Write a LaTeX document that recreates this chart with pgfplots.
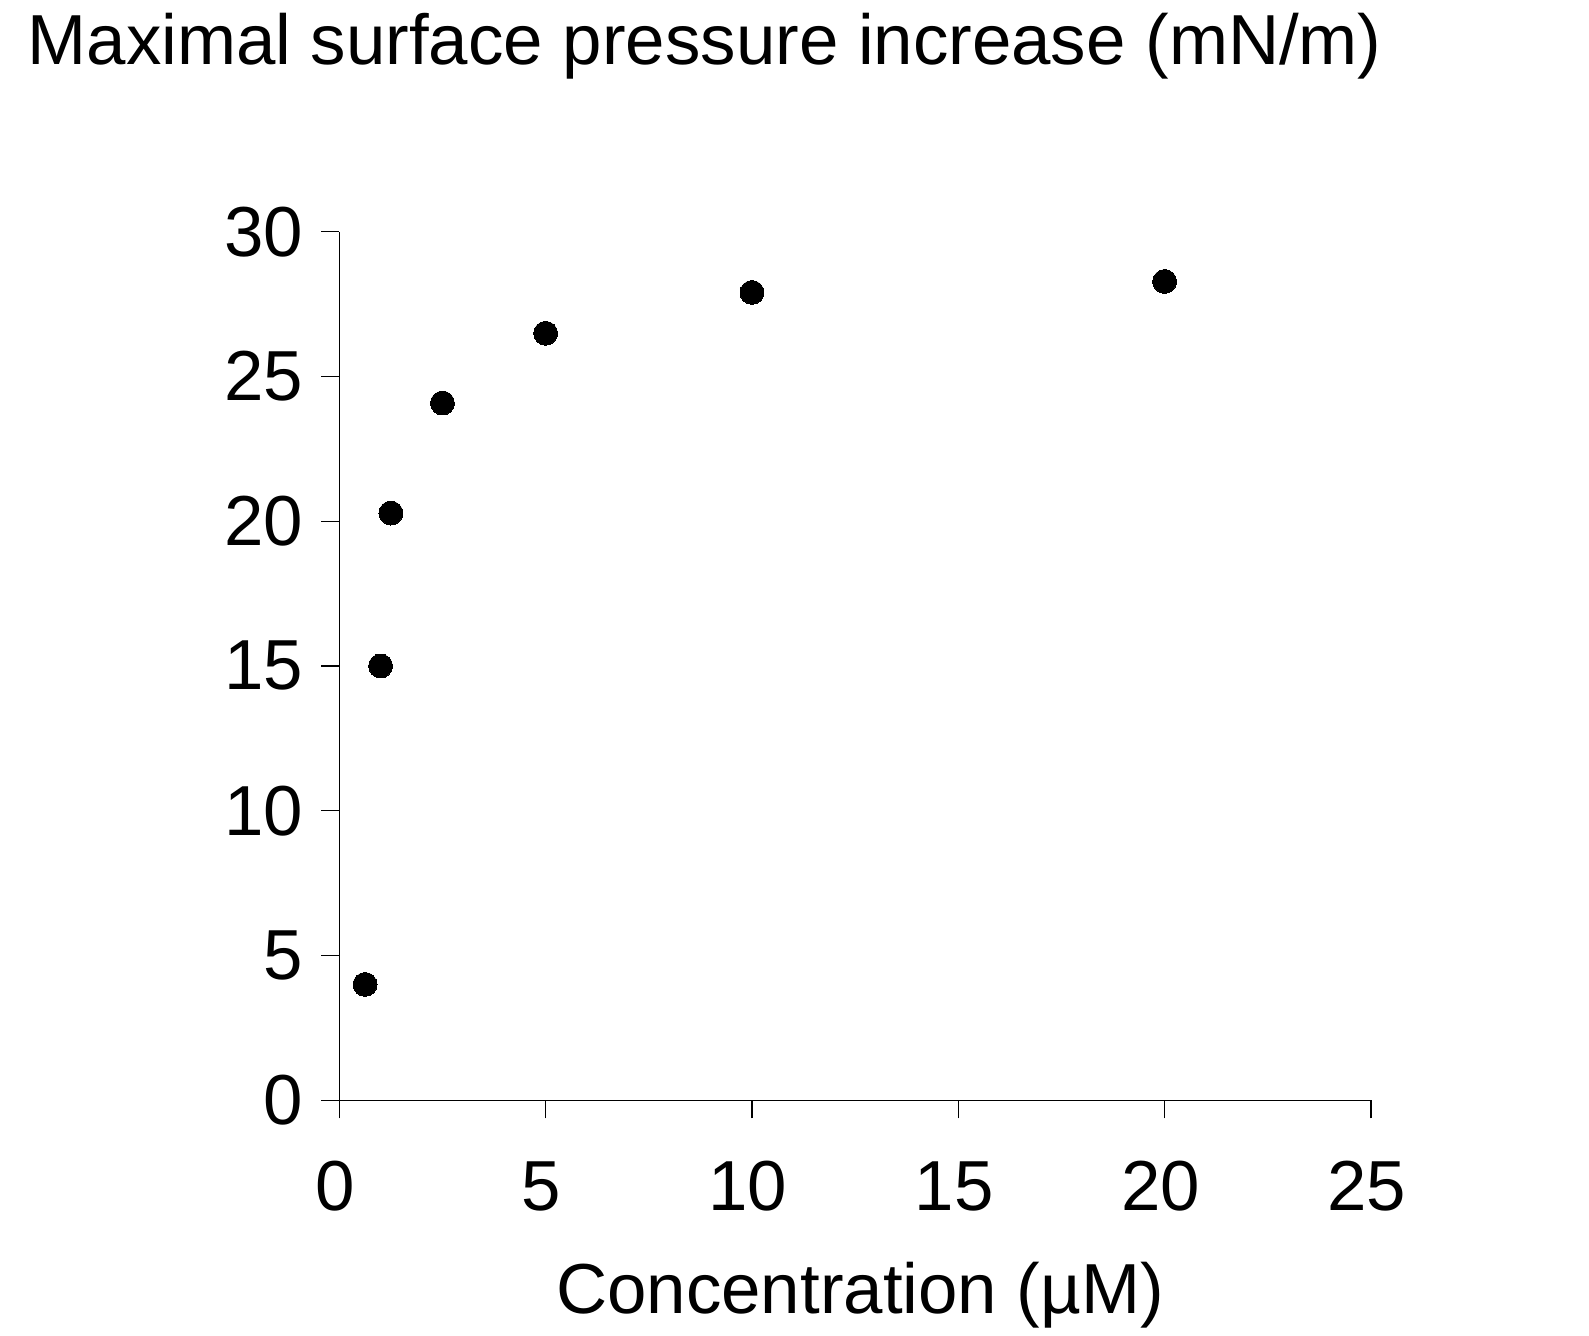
\documentclass[border=0pt]{standalone}
\usepackage{fontspec}
\setmainfont{Liberation Sans}
\usepackage{pgfplots}
\pgfplotsset{compat=1.18}
\begin{document}
\begin{tikzpicture}
\useasboundingbox (-122.15pt,-84.85pt) rectangle (449.9pt,396.1pt);
\begin{axis}[
  at={(0,0)}, anchor=south west,
  scale only axis,
  width=371.4pt, height=312.7pt,
  xmin=0, xmax=25, ymin=0, ymax=30,
  xtick={0,5,...,25}, ytick={0,5,...,30},
  axis x line*=bottom, axis y line*=left,
  axis line style={line width=0.45pt, -},
  tick style={line width=0.45pt, black},
  tick align=outside,
  major tick length=6.5pt,
  /pgf/number format/assume math mode=true,
  tick label style={font=\fontsize{25.5}{30}\selectfont},
  xticklabel style={yshift=-12pt, xshift=-1.5pt},
  yticklabel style={xshift=-3pt},
  clip=false,
]
\addplot[only marks, mark=*, mark size=4.3pt, mark options={fill=black, draw=black, line width=0pt}]
coordinates {(0.625,4.0) (1.0,15.0) (1.25,20.28) (2.5,24.08) (5,26.49) (10,27.9) (20,28.28)};
\end{axis}
\node[anchor=base west, inner sep=0pt, font=\fontsize{25.5}{30}\selectfont] at (-112.4pt,372.7pt) {Maximal surface pressure increase (mN/m)};
\node[anchor=base, inner sep=0pt, font=\fontsize{25.5}{30}\selectfont] at (187.5pt,-76.8pt) {Concentration (µM)};
\end{tikzpicture}
\end{document}
